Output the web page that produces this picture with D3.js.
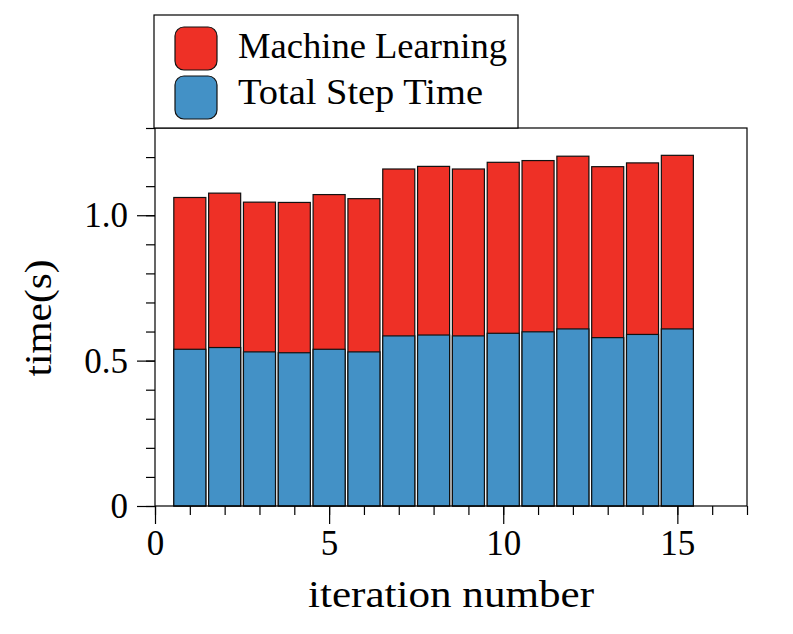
<!DOCTYPE html>
<html><head><meta charset="utf-8">
<script src="https://cdn.jsdelivr.net/npm/d3@7"></script>
<style>body{margin:0;background:#fff}svg{display:block}</style>
</head><body>
<script>
const iterations = [1,2,3,4,5,6,7,8,9,10,11,12,13,14,15];
const machineLearning = [1.061,1.076,1.045,1.044,1.071,1.057,1.159,1.168,1.159,1.182,1.188,1.203,1.167,1.180,1.206];
const totalStepTime = [0.539,0.545,0.530,0.527,0.539,0.530,0.585,0.588,0.585,0.594,0.599,0.609,0.579,0.590,0.609];
const seriesNames = ["Machine Learning","Total Step Time"];
const seriesColors = ["#ee3026","#4391c6"];
const xTicks = [0,5,10,15];
const yTicks = [0,0.5,1.0];
const yTickLabels = ["0","0.5","1.0"];

const W=793,H=634;
const m={l:155,r:46,t:128,b:128};
const svg=d3.select("body").append("svg").attr("width",W).attr("height",H);
const font="'Liberation Serif','DejaVu Serif',serif";
const x=d3.scaleLinear().domain([0,17]).range([m.l,W-m.r]);
const y=d3.scaleLinear().domain([0,1.3]).range([H-m.b,m.t]);
const bw=x(0.92)-x(0);

const g=svg.append("g");
[[machineLearning,0],[totalStepTime,1]].forEach(([vals,k])=>{
  g.selectAll(null).data(vals).enter().append("rect")
    .attr("x",(d,i)=>x(iterations[i])-bw/2)
    .attr("y",d=>y(d))
    .attr("width",bw)
    .attr("height",d=>y(0)-y(d))
    .attr("fill",seriesColors[k])
    .attr("stroke","#111").attr("stroke-width",1.2);
});

// frame
svg.append("rect").attr("x",x(0)).attr("y",y(1.3)).attr("width",x(17)-x(0)).attr("height",y(0)-y(1.3))
  .attr("fill","none").attr("stroke","#000").attr("stroke-width",1.2);

// axes
const xAxisMajor=d3.axisBottom(x).tickValues(xTicks).tickSize(18).tickFormat(d3.format("d"));
const xAxisMinor=d3.axisBottom(x).tickValues(d3.range(0,18,1)).tickSize(9).tickFormat("");
const yAxisMajor=d3.axisLeft(y).tickValues(yTicks).tickSize(18).tickFormat((d,i)=>yTickLabels[i]);
const yAxisMinor=d3.axisLeft(y).tickValues(d3.range(0,14).map(v=>v/10)).tickSize(9).tickFormat("");

function style(sel){
  sel.select(".domain").remove();
  sel.selectAll("line").attr("stroke","#000").attr("stroke-width",1.2);
  sel.selectAll("text").attr("font-family",font).attr("font-size",35).attr("fill","#000");
}
svg.append("g").attr("transform",`translate(0,${y(0)})`).call(xAxisMinor).call(style);
svg.append("g").attr("transform",`translate(0,${y(0)})`).call(xAxisMajor).call(style)
  .selectAll("text").attr("y",49).attr("dy",0);
svg.append("g").attr("transform",`translate(${x(0)},0)`).call(yAxisMinor).call(style);
svg.append("g").attr("transform",`translate(${x(0)},0)`).call(yAxisMajor).call(style)
  .selectAll("text").attr("x",-27).attr("dy","0.33em");

// axis labels
svg.append("text").attr("x",(x(0)+x(17))/2).attr("y",607).attr("text-anchor","middle")
  .attr("font-family",font).attr("font-size",37)
  .attr("textLength",286).attr("lengthAdjust","spacingAndGlyphs").text("iteration number");
svg.append("text").attr("transform",`translate(51,${(y(0)+y(1.3))/2+1}) rotate(-90)`).attr("text-anchor","middle")
  .attr("font-family",font).attr("font-size",37)
  .attr("textLength",117).attr("lengthAdjust","spacingAndGlyphs").text("time(s)");

// legend
const legendWidths=[269,245];
const lg=svg.append("g");
lg.append("rect").attr("x",154).attr("y",15).attr("width",364).attr("height",113)
  .attr("fill","#fff").attr("stroke","#000").attr("stroke-width",1.2);
seriesNames.forEach((n,i)=>{
  lg.append("rect").attr("x",175).attr("y",27+i*49).attr("width",42).attr("height",43)
    .attr("rx",9).attr("fill",seriesColors[i]).attr("stroke","#111").attr("stroke-width",1.2);
  lg.append("text").attr("x",238).attr("y",57.5+i*46).attr("font-family",font).attr("font-size",35)
    .attr("textLength",legendWidths[i]).attr("lengthAdjust","spacingAndGlyphs").text(n);
});
</script>
</body></html>
